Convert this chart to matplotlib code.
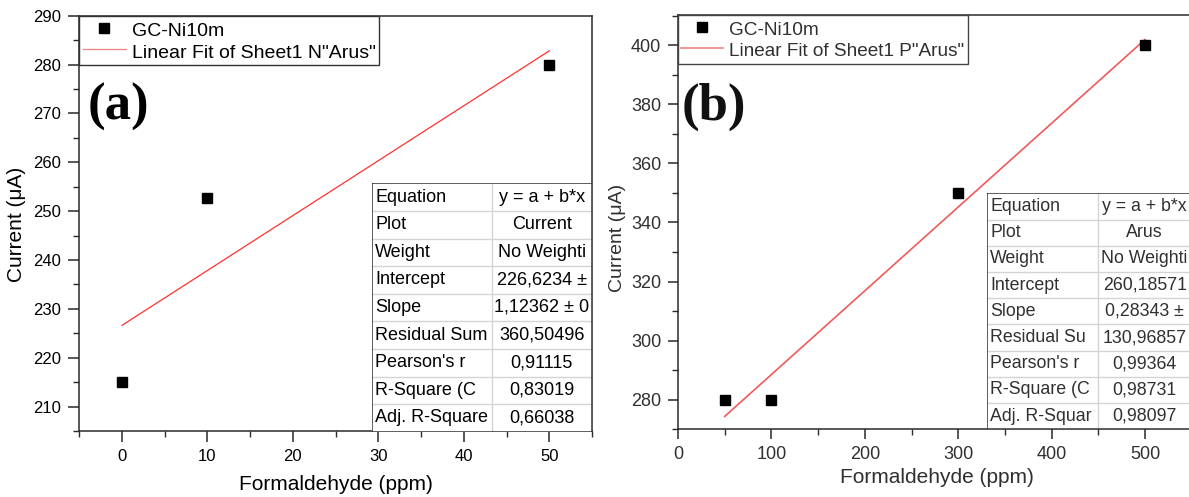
import numpy as np
import matplotlib
matplotlib.use("Agg")
import matplotlib.pyplot as plt
from matplotlib.ticker import MultipleLocator
from matplotlib.patches import Rectangle

plt.rcParams['font.family'] = ['Liberation Sans', 'DejaVu Sans']

# ---------------- data ----------------
conc_a = [0, 10, 50]
current_a = [215, 252.7, 280]
fit_a_intercept = 226.6234
fit_a_slope = 1.12362

conc_b = [50, 100, 300, 500]
current_b = [280, 280, 350, 400]
fit_b_intercept = 260.18571
fit_b_slope = 0.28343

series_label = "GC-Ni10m"
fit_label_a = 'Linear Fit of Sheet1 N"Arus"'
fit_label_b = 'Linear Fit of Sheet1 P"Arus"'

table_rows_a = ["Equation", "Plot", "Weight", "Intercept", "Slope",
                "Residual Sum", "Pearson's r", "R-Square (C", "Adj. R-Square"]
table_vals_a = ["y = a + b*x", "Current", "No Weighti", "226,6234 \u00b1",
                "1,12362 \u00b1 0", "360,50496", "0,91115", "0,83019", "0,66038"]
table_rows_b = ["Equation", "Plot", "Weight", "Intercept", "Slope",
                "Residual Su", "Pearson's r", "R-Square (C", "Adj. R-Squar"]
table_vals_b = ["y = a + b*x", "Arus", "No Weighti", "260,18571",
                "0,28343 \u00b1", "130,96857", "0,99364", "0,98731", "0,98097"]

xlabel = "Formaldehyde (ppm)"
ylabel = "Current (\u03bcA)"

# ---------------- figure ----------------
W, H = 1189, 497
fig = plt.figure(figsize=(W / 100, H / 100), dpi=100)


def px_rect(x0, y0, x1, y1):
    return [x0 / W, 1 - y1 / H, (x1 - x0) / W, (y1 - y0) / H]


def style_axes(ax, tcolor, fs, major_len, xminor, yminor):
    for s in ax.spines.values():
        s.set_linewidth(1.1)
        s.set_color('#2a2a2a')
    ax.tick_params(which='both', direction='out', top=False, right=False,
                   colors='#2a2a2a', labelcolor=tcolor, labelsize=fs)
    ax.tick_params(which='major', length=major_len, width=1.1, pad=5)
    ax.tick_params(which='minor', length=4, width=1.0)
    ax.xaxis.set_minor_locator(MultipleLocator(xminor))
    ax.yaxis.set_minor_locator(MultipleLocator(yminor))


def draw_table(rect, split, rows, vals, fs, tcolor):
    x0, y0, x1, y1 = rect
    tax = fig.add_axes(px_rect(x0, y0, x1, y1))
    tax.set_xlim(x0, x1)
    tax.set_ylim(y1, y0)
    tax.axis('off')
    tax.add_patch(Rectangle((x0, y0), x1 - x0, y1 - y0, facecolor='white',
                            edgecolor='none', zorder=0))
    n = len(rows)
    rh = (y1 - y0) / n
    for i in range(1, n):
        tax.plot([x0, x1], [y0 + i * rh] * 2, color='#d4d4d4', lw=1.0, zorder=1)
    tax.plot([split, split], [y0, y1], color='#d4d4d4', lw=1.0, zorder=1)
    tax.add_patch(Rectangle((x0, y0), x1 - x0, y1 - y0, facecolor='none',
                            edgecolor='#333333', lw=1.1, zorder=3))
    for i, (r, v) in enumerate(zip(rows, vals)):
        yc = y0 + (i + 0.5) * rh
        tax.text(x0 + 3.5, yc, r, ha='left', va='center', fontsize=fs,
                 color=tcolor)
        tax.text((split + x1) / 2, yc, v, ha='center', va='center',
                 fontsize=fs, color=tcolor)


def make_legend(ax, fs, edge, tcolor):
    leg = ax.legend(loc='upper left', bbox_to_anchor=(0, 1), borderaxespad=0,
                    fontsize=fs, frameon=True, fancybox=False,
                    edgecolor=edge, framealpha=1, handlelength=2.2,
                    handleheight=1.25, handletextpad=0.32, borderpad=0.18,
                    labelspacing=0.04, numpoints=1, labelcolor=tcolor)
    leg.get_frame().set_linewidth(1.0)
    for h in leg.legend_handles:
        if h.get_marker() in ('None', None, ''):
            h.set_color('#f08080')
    return leg


# ---------------- panel (a) ----------------
ax1 = fig.add_axes(px_rect(79.3, 15.7, 592, 431))
ax1.plot(conc_a, current_a, 's', color='black', ms=6.5, label=series_label,
         zorder=3)
xa = np.array([min(conc_a), max(conc_a)])
ax1.plot(xa, fit_a_intercept + fit_a_slope * xa, '-', color='#ff3030',
         lw=0.9, label=fit_label_a, zorder=2)
ax1.set_xlim(-5, 55)
ax1.set_ylim(205, 290)
ax1.set_xticks(np.arange(0, 51, 10))
ax1.set_yticks(np.arange(210, 291, 10))
style_axes(ax1, 'black', 12, 8, 5, 5)
make_legend(ax1, 14, '#333333', 'black')
fig.text(118.8 / W, 1 - 107 / H, "(a)", family='Liberation Serif',
         weight='bold', fontsize=38, ha='center', va='center')
fig.text(335.5 / W, 1 - 485 / H, xlabel, ha='center', va='center',
         fontsize=15, color='black')
fig.text(17 / W, 1 - 224 / H, ylabel, ha='center', va='center',
         fontsize=15, rotation=90, color='black')
draw_table((371.7, 183.3, 591.7, 431.7), 491.7, table_rows_a, table_vals_a,
           13, 'black')

# ---------------- panel (b) ----------------
gray_txt = '#303030'
ax2 = fig.add_axes(px_rect(678, 15, 1191.7, 429.3))
ax2.plot(conc_b, current_b, 's', color='black', ms=6.5, label=series_label,
         zorder=3)
xb = np.array([min(conc_b), max(conc_b)])
ax2.plot(xb, fit_b_intercept + fit_b_slope * xb, '-', color='#f05a5a',
         lw=1.2, label=fit_label_b, zorder=2)
ax2.set_xlim(0, 550)
ax2.set_ylim(270, 410.2)
ax2.set_xticks(np.arange(0, 501, 100))
ax2.set_yticks(np.arange(280, 401, 20))
style_axes(ax2, gray_txt, 13, 7, 50, 10)
make_legend(ax2, 13.7, '#444444', gray_txt)
fig.text(713.5 / W, 1 - 107 / H, "(b)", family='Liberation Serif',
         weight='bold', fontsize=38, ha='center', va='center', color='#111111')
fig.text(936.7 / W, 1 - 477.5 / H, xlabel, ha='center', va='center',
         fontsize=15, color=gray_txt)
fig.text(617 / W, 1 - 238 / H, ylabel, ha='center', va='center',
         fontsize=14, rotation=90, color=gray_txt)
draw_table((986.7, 193.3, 1191, 429.3), 1098.3, table_rows_b, table_vals_b,
           12.8, gray_txt)

fig.savefig("out.png", dpi=100)
